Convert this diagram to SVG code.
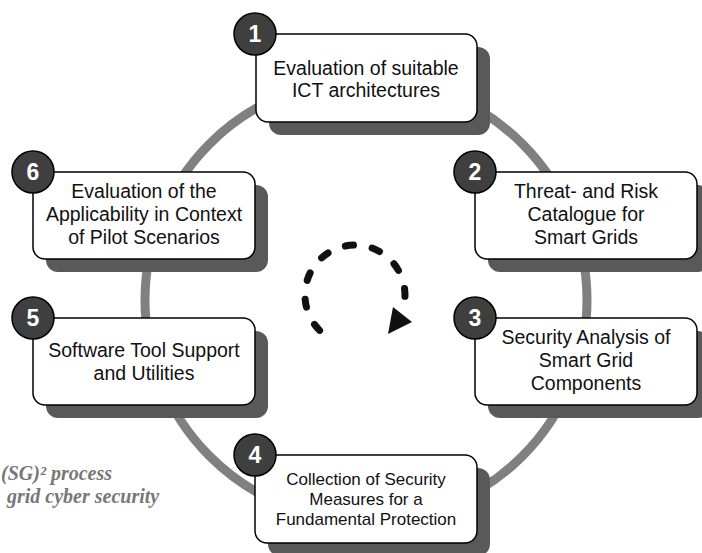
<svg xmlns="http://www.w3.org/2000/svg" width="702" height="553" viewBox="0 0 702 553">
<defs>
<style>
.shadow{fill:#595959;}
.box{fill:#ffffff;stroke:#000000;stroke-width:1.5;}
.badge{fill:#3f3f3f;stroke:#000000;stroke-width:1.5;}
.num{font-family:"Liberation Sans",Arial,sans-serif;font-weight:bold;font-size:23px;fill:#ffffff;text-anchor:middle;}
.lbl{font-family:"Liberation Sans",Arial,sans-serif;font-size:19.5px;fill:#111111;text-anchor:middle;}
.lbl.sm{font-size:17px;}
.cap{font-family:"Liberation Serif","Times New Roman",serif;font-weight:bold;font-style:italic;font-size:20px;fill:#777777;}
</style>
</defs>
<rect width="702" height="553" fill="#ffffff"/>
<text class="cap" x="1" y="480">(SG)² process</text>
<text class="cap" x="7" y="503">grid cyber security</text>
<g id="connectors">
<circle cx="366" cy="300" r="221" fill="none" stroke="#808080" stroke-width="9"/>
<path d="M319.6,330.4 A50,50 0 1 1 403.3,307.9" fill="none" stroke="#111111" stroke-width="7" stroke-linecap="round" stroke-dasharray="8 19"/>
<polygon points="393,307 412,322 388,334" fill="#111111"/>
</g>
<g id="node1">
<rect class="shadow" x="269" y="47" width="221" height="88" rx="12"/>
<rect class="box" x="256" y="34" width="221" height="88" rx="12"/>
<text class="lbl" x="366" y="75">Evaluation of suitable</text>
<text class="lbl" x="366" y="97">ICT architectures</text>
<circle class="badge" cx="255" cy="34" r="21"/>
<text class="num" x="255" y="42">1</text>
</g>
<g id="node2">
<rect class="shadow" x="488" y="185" width="222" height="87" rx="12"/>
<rect class="box" x="475" y="172" width="222" height="87" rx="12"/>
<text class="lbl" x="586" y="198">Threat- and Risk</text>
<text class="lbl" x="586" y="221">Catalogue for</text>
<text class="lbl" x="586" y="244">Smart Grids</text>
<circle class="badge" cx="475" cy="172" r="21"/>
<text class="num" x="475" y="180">2</text>
</g>
<g id="node3">
<rect class="shadow" x="488" y="331" width="222" height="87" rx="12"/>
<rect class="box" x="475" y="318" width="222" height="87" rx="12"/>
<text class="lbl" x="586" y="344">Security Analysis of</text>
<text class="lbl" x="586" y="367">Smart Grid</text>
<text class="lbl" x="586" y="390">Components</text>
<circle class="badge" cx="475" cy="318" r="21"/>
<text class="num" x="475" y="326">3</text>
</g>
<g id="node4">
<rect class="shadow" x="268" y="468" width="222" height="88" rx="12"/>
<rect class="box" x="255" y="455" width="222" height="88" rx="12"/>
<text class="lbl sm" x="366" y="485">Collection of Security</text>
<text class="lbl sm" x="366" y="505">Measures for a</text>
<text class="lbl sm" x="366" y="525">Fundamental Protection</text>
<circle class="badge" cx="255" cy="455" r="21"/>
<text class="num" x="255" y="463">4</text>
</g>
<g id="node5">
<rect class="shadow" x="46" y="331" width="222" height="87" rx="12"/>
<rect class="box" x="33" y="318" width="222" height="87" rx="12"/>
<text class="lbl" x="144" y="357">Software Tool Support</text>
<text class="lbl" x="144" y="380">and Utilities</text>
<circle class="badge" cx="33" cy="318" r="21"/>
<text class="num" x="33" y="326">5</text>
</g>
<g id="node6">
<rect class="shadow" x="46" y="185" width="222" height="87" rx="12"/>
<rect class="box" x="33" y="172" width="222" height="87" rx="12"/>
<text class="lbl" x="144" y="198">Evaluation of the</text>
<text class="lbl" x="144" y="221">Applicability in Context</text>
<text class="lbl" x="144" y="244">of Pilot Scenarios</text>
<circle class="badge" cx="33" cy="172" r="21"/>
<text class="num" x="33" y="180">6</text>
</g>
</svg>
